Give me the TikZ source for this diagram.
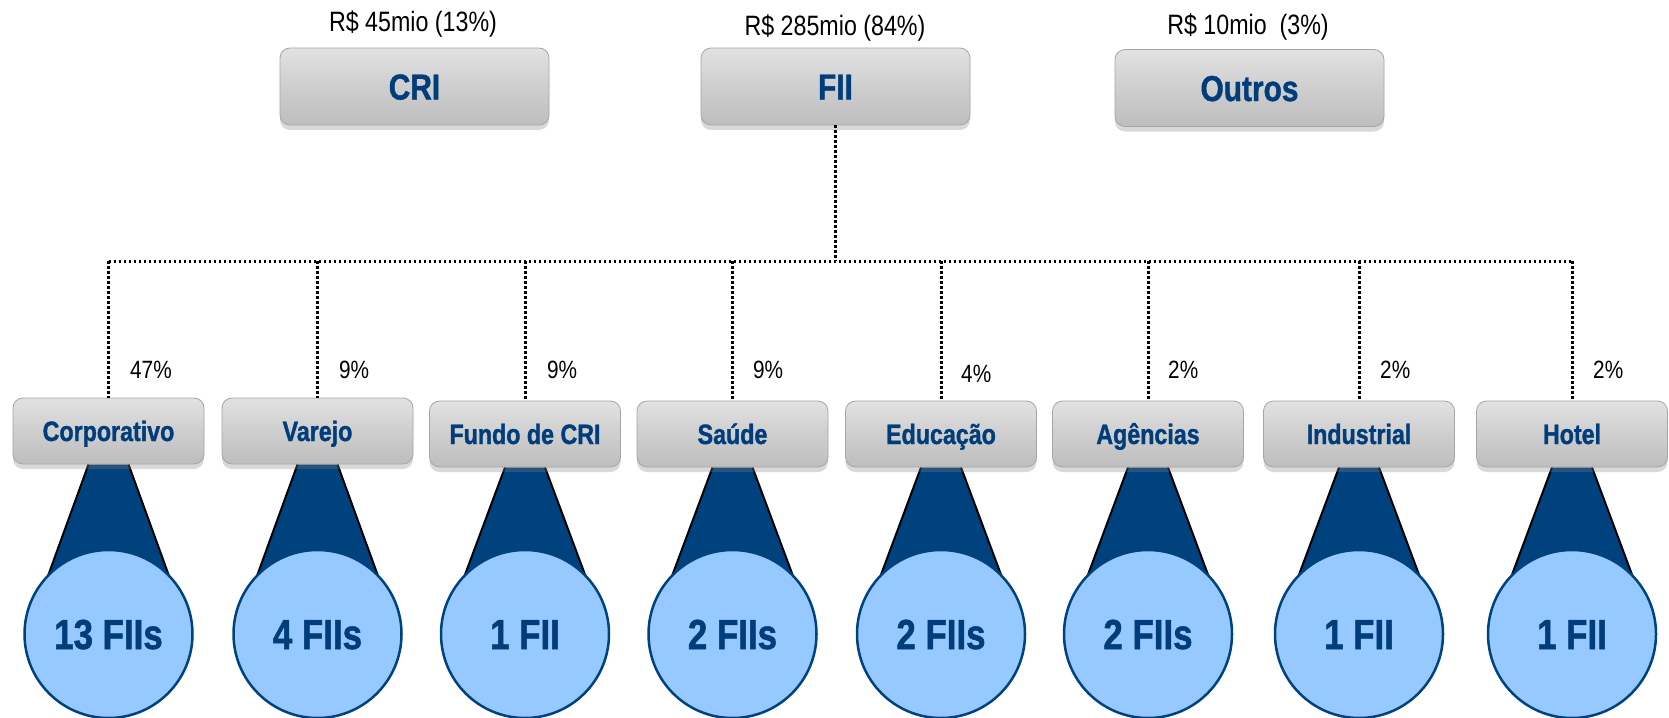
\documentclass[tikz,border=0pt]{standalone}
\usepackage{fontspec}
\setmainfont[FakeStretch=0.83, BoldFeatures={FakeBold=1.2}]{Liberation Sans}
\usetikzlibrary{shadows}
\pgfdeclarelayer{background}
\pgfsetlayers{background,main}
\definecolor{navy}{RGB}{0,66,126}
\definecolor{txtblue}{RGB}{0,61,122}
\definecolor{lightblue}{RGB}{150,201,255}
\definecolor{boxtop}{RGB}{226,226,226}
\definecolor{boxmid}{RGB}{206,206,206}
\definecolor{boxbot}{RGB}{190,190,190}
\definecolor{boxline}{RGB}{165,165,165}
\begin{document}
\begin{tikzpicture}[x=1pt,y=-1pt,
 graybox/.style={rectangle, rounded corners=10pt, draw=boxline, line width=0.8pt,
   top color=boxtop, bottom color=boxbot, middle color=boxmid,
   drop shadow={shadow xshift=0pt, shadow yshift=-5pt, opacity=0.3},
   text=txtblue, inner sep=0pt, text depth=0pt},
 topbox/.style={graybox, minimum width=269pt, minimum height=77pt,
   font=\fontsize{36}{40}\selectfont\bfseries, text height=26pt},
 catbox/.style={graybox, minimum width=191pt, minimum height=66pt,
   font=\fontsize{28}{32}\selectfont\bfseries, text height=20pt},
 countc/.style={circle, draw=navy, line width=2.5pt, fill=lightblue, minimum size=168pt,
   inner sep=0pt, text=txtblue, font=\fontsize{42}{46}\selectfont\bfseries,
   text height=30pt, text depth=0pt},
 amount/.style={anchor=base, font=\fontsize{28}{32}\selectfont, inner sep=0pt},
 share/.style={anchor=base west, font=\fontsize{25}{28}\selectfont, inner sep=0pt},
 dotline/.style={line width=3pt, dash pattern=on 2.8pt off 2.2pt},
 cone/.style={fill=navy, draw=none},
 coneedge/.style={line width=2pt, black}
]
\useasboundingbox (0,0) rectangle (1669,717);

% top level
\node[amount] (lcri) at (413,32) {R\$ 45mio (13\%)};
\node[amount] (lfii) at (835,36) {R\$ 285mio (84\%)};
\node[amount] (lout) at (1248,35) {R\$ 10mio\ \ (3\%)};
\node[topbox] (cri) at (414.5,86.5) {CRI};
\node[topbox] (fii) at (835.5,86.5) {FII};
\node[topbox] (outros) at (1249.5,88) {Outros};

% circles
\node[countc] (ccorp) at (108.5,634) {13 FIIs};
\node[countc] (cvarejo) at (317.5,634) {4 FIIs};
\node[countc] (cfundo) at (525,634) {1 FII};
\node[countc] (csaude) at (732.5,634) {2 FIIs};
\node[countc] (ceduc) at (941,634) {2 FIIs};
\node[countc] (cagen) at (1148,634) {2 FIIs};
\node[countc] (cindus) at (1359,634) {1 FII};
\node[countc] (chotel) at (1572,634) {1 FII};

% category boxes
\node[catbox] (corp) at (108.5,431) {Corporativo};
\node[catbox] (varejo) at (317.5,431) {Varejo};
\node[catbox] (fundo) at (525,434) {Fundo de CRI};
\node[catbox] (saude) at (732.5,434) {Saúde};
\node[catbox] (educ) at (941,434) {Educação};
\node[catbox] (agen) at (1148,434) {Agências};
\node[catbox] (indus) at (1359,434) {Industrial};
\node[catbox] (hotel) at (1572,434) {Hotel};

% percentages
\node[share] (pcorp) at (130,378) {47\%};
\node[share] (pvarejo) at (339,378) {9\%};
\node[share] (pfundo) at (547,378) {9\%};
\node[share] (psaude) at (753,378) {9\%};
\node[share] (peduc) at (961,382) {4\%};
\node[share] (pagen) at (1168,378) {2\%};
\node[share] (pindus) at (1380,378) {2\%};
\node[share] (photel) at (1593,378) {2\%};

% dotted tree
\coordinate (bus) at (835.5,261);
\draw[dotline] (fii.south) -- (bus);
\draw[dotline] (corp.north |- bus) -- (hotel.north |- bus);
\foreach \n in {corp,varejo,fundo,saude,educ,agen,indus,hotel}
  \draw[dotline] (\n.north |- bus) -- (\n.north);

% cones
\begin{pgfonlayer}{background}
\foreach \n in {corp,varejo,fundo,saude,educ,agen,indus,hotel}{
  \fill[cone] ([xshift=-20pt]\n.south) -- ([xshift=20pt]\n.south)
     -- ([xshift=62pt,yshift=54pt]c\n.center) -- ([xshift=-62pt,yshift=54pt]c\n.center) -- cycle;
  \draw[coneedge] ([xshift=-20pt]\n.south) -- ([xshift=-62pt,yshift=54pt]c\n.center);
  \draw[coneedge] ([xshift=20pt]\n.south) -- ([xshift=62pt,yshift=54pt]c\n.center);
}
\end{pgfonlayer}
\end{tikzpicture}
\end{document}
